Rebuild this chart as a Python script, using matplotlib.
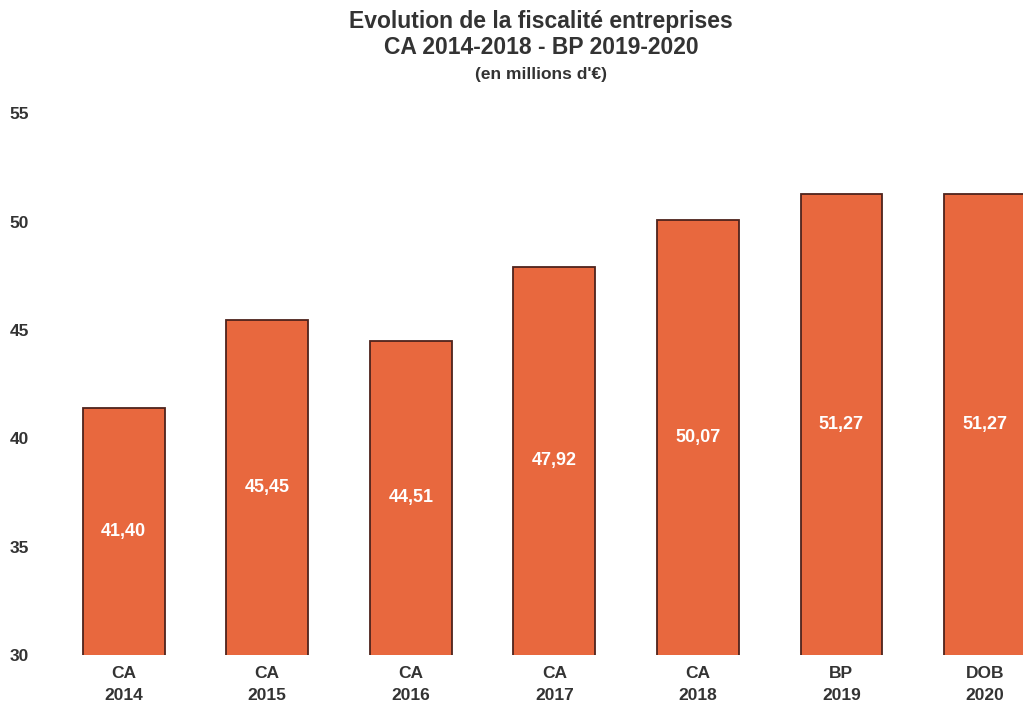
import matplotlib.pyplot as plt

plt.rcParams['font.family'] = ['Liberation Sans', 'DejaVu Sans']

categories = ["CA\n2014", "CA\n2015", "CA\n2016", "CA\n2017", "CA\n2018", "BP\n2019", "DOB\n2020"]
values = [41.40, 45.45, 44.51, 47.92, 50.07, 51.27, 51.27]
yticks = [30, 35, 40, 45, 50, 55]

fig = plt.figure(figsize=(10.23, 7.04), dpi=100)
ax = fig.add_axes([44 / 1023, 49 / 704, 979 / 1023, 585 / 704])

x = list(range(len(values)))
ax.bar(x, values, width=0.57, color="#E8683E", edgecolor="#4E231C", linewidth=1.3)

ybase = 30
for xi, v in zip(x, values):
    ax.text(xi, (ybase + v) / 2, f"{v:.2f}".replace(".", ","), ha="center", va="center",
            color="white", fontsize=13, fontweight="bold")

ax.set_xlim(-0.555, 6.265)
ax.set_ylim(30, 57)
ax.set_yticks(yticks)
ax.set_yticklabels([str(t) for t in yticks], fontsize=12.5, fontweight="bold", color="#333333")
ax.set_xticks(x)
ax.set_xticklabels(categories, fontsize=12.5, fontweight="bold", color="#333333", linespacing=1.6)
ax.tick_params(length=0, axis="y", pad=11)
ax.tick_params(length=0, axis="x", pad=8)
for s in ax.spines.values():
    s.set_visible(False)

fig.text(0.529, 0.970, "Evolution de la fiscalité entreprises", ha="center", va="center",
         fontsize=16.5, fontweight="bold", color="#333333")
fig.text(0.529, 0.933, "CA 2014-2018 - BP 2019-2020", ha="center", va="center",
         fontsize=16.5, fontweight="bold", color="#333333")
fig.text(0.529, 0.894, "(en millions d'€)", ha="center", va="center",
         fontsize=12.5, fontweight="bold", color="#333333")

fig.savefig("out.png", dpi=100)
